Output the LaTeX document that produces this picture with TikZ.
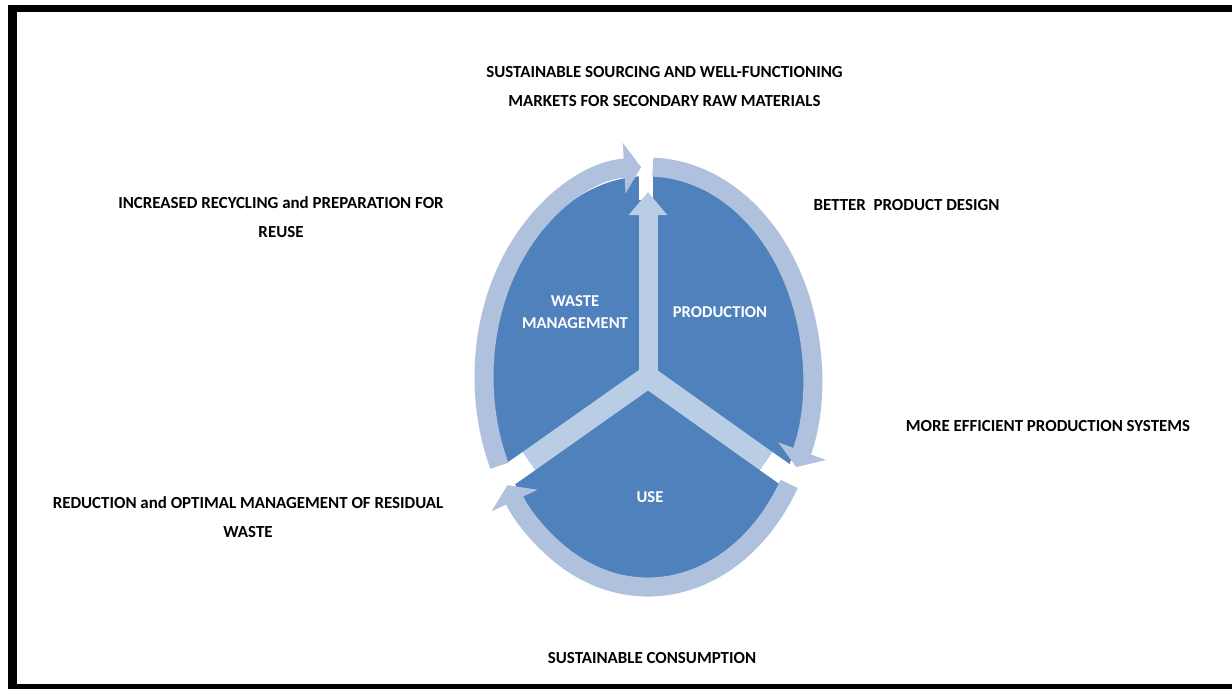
\documentclass[tikz,border=0pt]{standalone}
\usepackage{fontspec}
\setmainfont{Carlito}
\usetikzlibrary{arrows.meta}
\definecolor{darkblue}{RGB}{79,129,189}
\definecolor{ringc}{RGB}{176,193,221}
\definecolor{armc}{RGB}{185,205,229}
\tikzset{
  ringline/.style={line width=19pt, draw=ringc, line cap=butt, -{Triangle[width=50pt,length=17pt]}},
  armline/.style={draw=armc, line cap=butt, line join=miter},
  gapline/.style={draw=white, line cap=butt},
  outlabel/.style={font=\bfseries\fontsize{16.9}{29}\selectfont, text=black, align=center, inner sep=0pt},
  inlabel/.style={font=\bfseries\fontsize{16.6}{22}\selectfont, text=white, align=center, inner sep=0pt}
}
\begin{document}
\begin{tikzpicture}[x=1pt,y=-1pt]
\useasboundingbox (0,0) rectangle (1232,689);
% frame
\fill[black] (8,5) rectangle (1232,12);
\fill[black] (8,5) rectangle (17,689);
\fill[black] (8,684) rectangle (1232,689);
% centre
\coordinate (C) at (648,377);
\coordinate (E1) at (766,461);
\coordinate (E2) at (529,461);
\coordinate (T) at (648,192);
\coordinate (G0a) at (646,150);
\coordinate (G0b) at (646,200);
\coordinate (G1) at (803,487);
\coordinate (G2) at (492,487);
% dark body
\fill[darkblue] (C) ellipse[x radius=157, y radius=201];
% white gaps
\draw[gapline, line width=14pt] (G0a) -- (G0b);
\draw[gapline, line width=22pt] (E1) -- (G1);
\draw[gapline, line width=22pt] (E2) -- (G2);
% ring arrows
\draw[ringline] (C) ++(-88.3:164 and 210) arc[start angle=-88.3, end angle=25.4, x radius=164, y radius=210];
\draw[ringline] (C) ++(30.6:164 and 210) arc[start angle=30.6, end angle=149, x radius=164, y radius=210];
\draw[ringline] (C) ++(155:164 and 210) arc[start angle=155, end angle=267.6, x radius=164, y radius=210];
% arms
\draw[armline, line width=22pt] (E1) -- (C) -- (E2);
\draw[armline, line width=19pt, -{Triangle[width=37pt,length=23pt]}] (C) -- (T);
% inner labels
\node[inlabel] (wm) at (575,312) {WASTE\\MANAGEMENT};
\node[inlabel] (prod) at (720,312) {PRODUCTION};
\node[inlabel] (use) at (650,497) {USE};
% outer labels
\node[outlabel] (src) at (664.5,87) {SUSTAINABLE SOURCING AND WELL-FUNCTIONING\\MARKETS FOR SECONDARY RAW MATERIALS};
\node[outlabel] (rec) at (281,217) {INCREASED RECYCLING and PREPARATION FOR\\REUSE};
\node[outlabel] (des) at (906.5,205) {BETTER\ \ PRODUCT DESIGN};
\node[outlabel] (eff) at (1048,426) {MORE EFFICIENT PRODUCTION SYSTEMS};
\node[outlabel] (red) at (248,517) {REDUCTION and OPTIMAL MANAGEMENT OF RESIDUAL\\WASTE};
\node[outlabel] (con) at (652,658) {SUSTAINABLE CONSUMPTION};
\end{tikzpicture}
\end{document}
